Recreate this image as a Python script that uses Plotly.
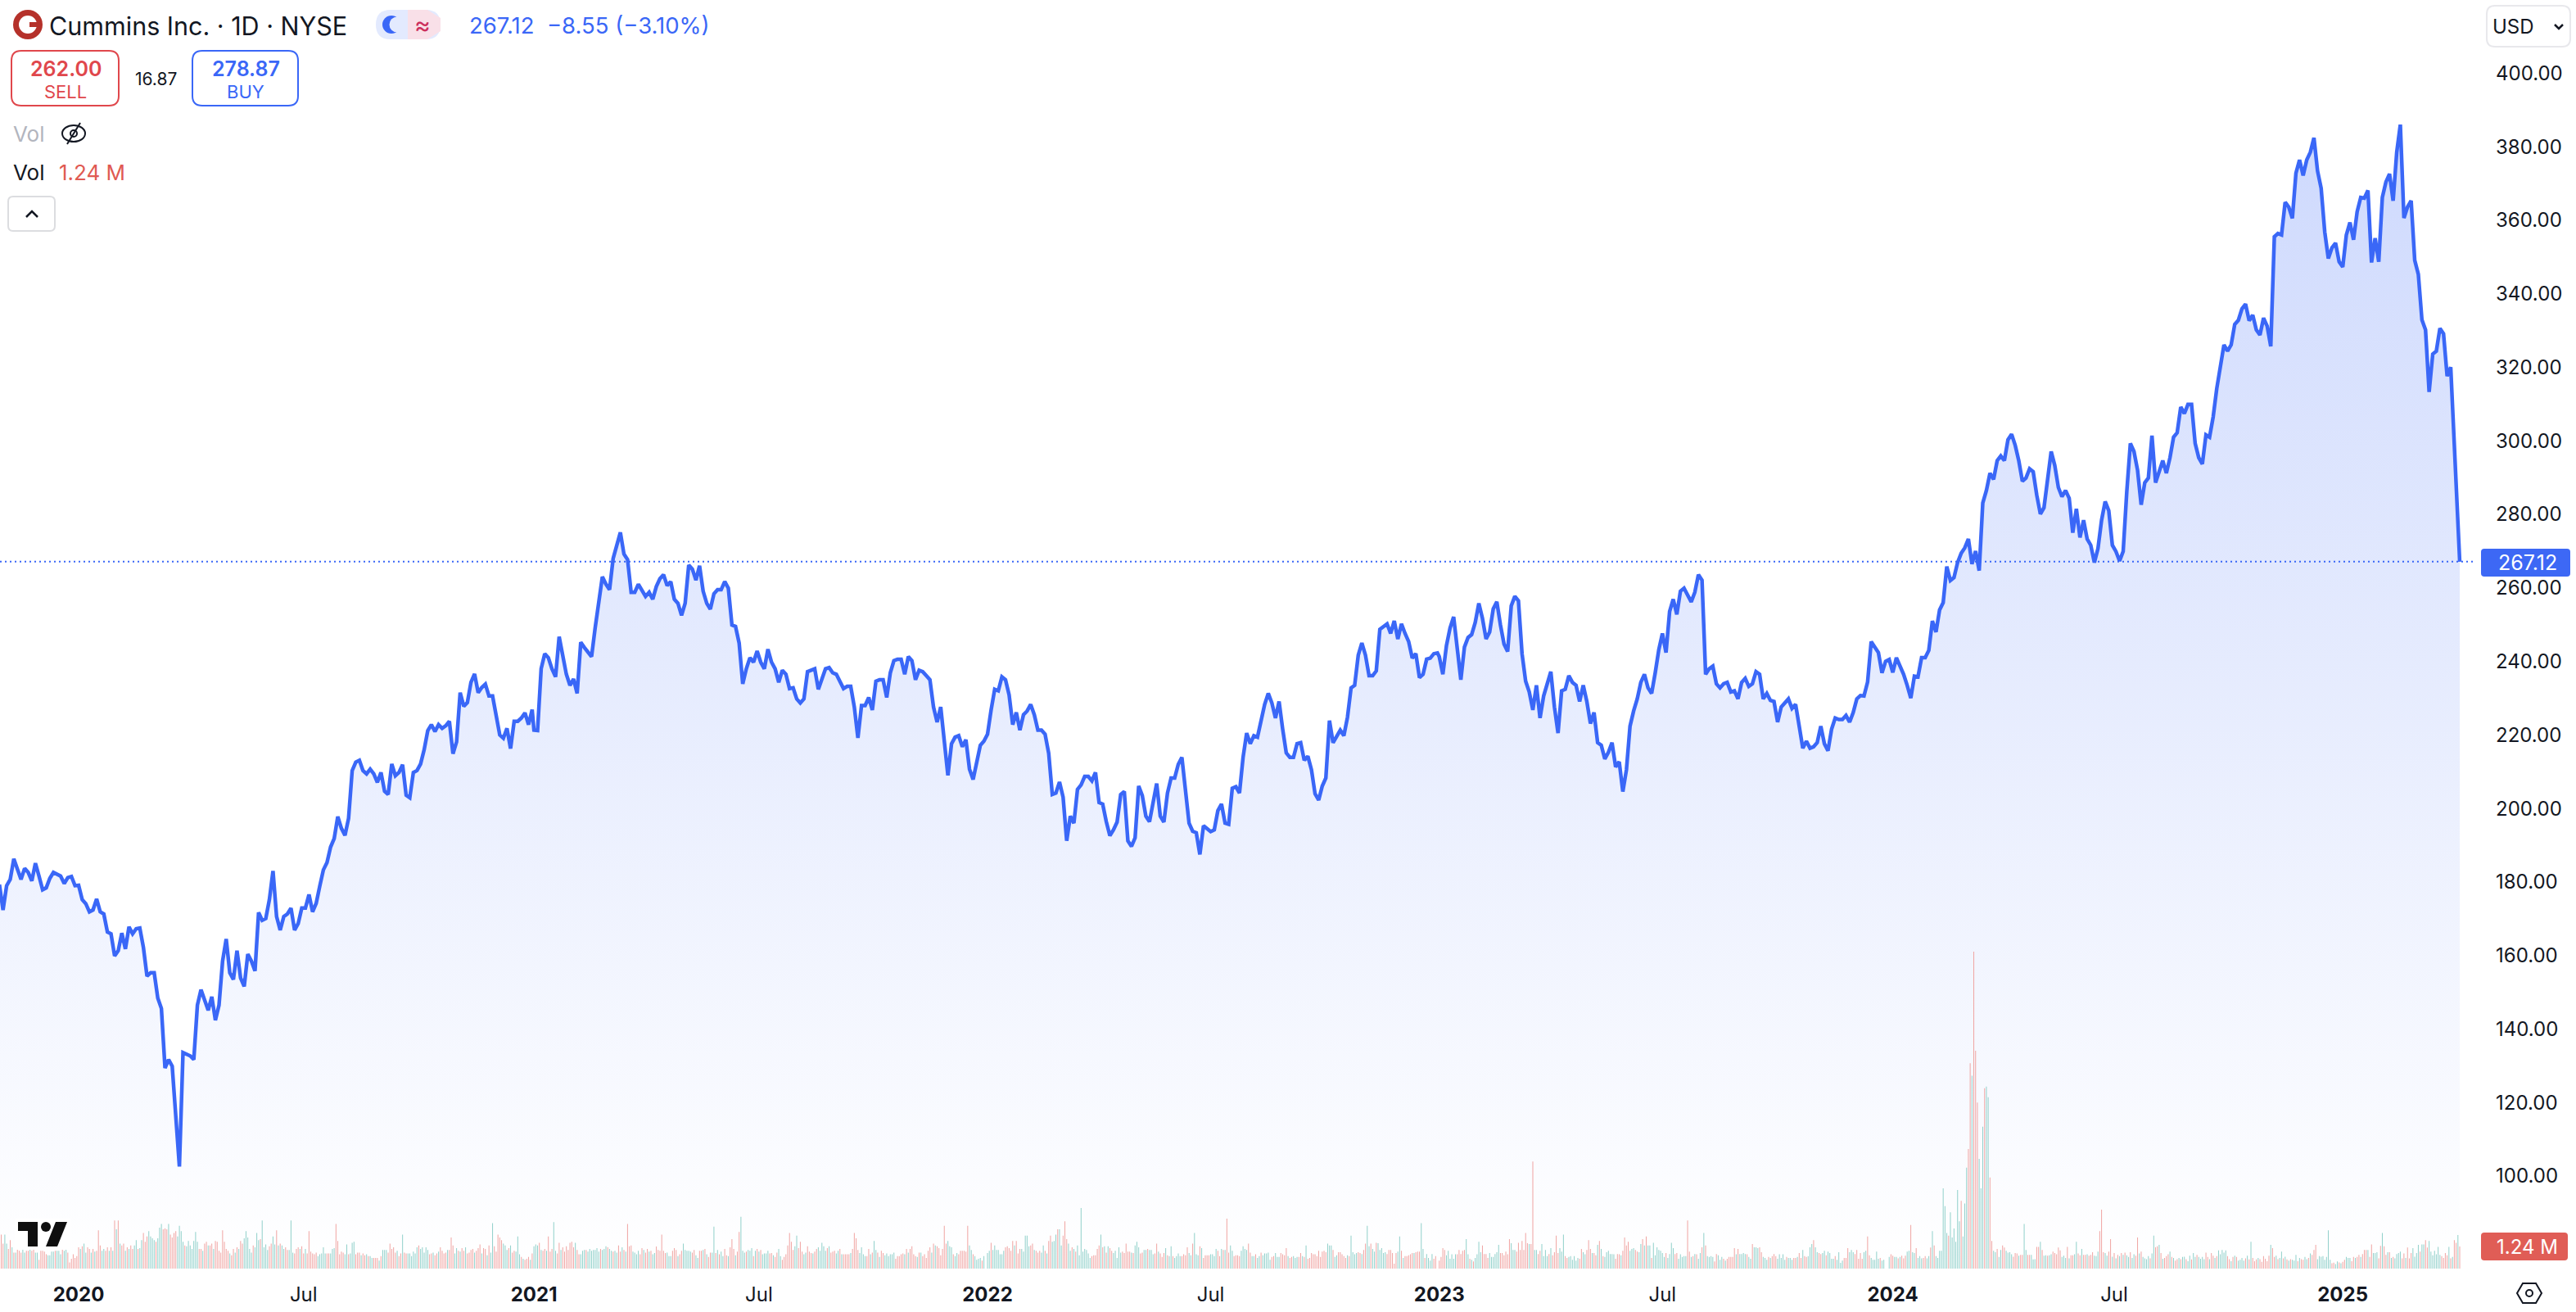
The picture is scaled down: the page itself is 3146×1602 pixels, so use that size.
import plotly.graph_objects as go

WIDTH = 3146
HEIGHT = 1602
FONT = "Inter"
BLUE = "#3a67f7"
RED = "#e0474c"
INK = "#131722"

# bar numbers count trading days from the first session of 2020
year_starts = [-44, 0, 253, 505, 756, 1006, 1258]
tick_bars = [0, 125, 253, 378, 505, 629, 756, 880, 1008, 1131, 1258]
tick_labels = ["<b>2020</b>", "Jul", "<b>2021</b>", "Jul", "<b>2022</b>", "Jul",
               "<b>2023</b>", "Jul", "<b>2024</b>", "Jul", "<b>2025</b>"]
price_ticks = [100, 120, 140, 160, 180, 200, 220, 240, 260, 280, 300, 320, 340, 360, 380, 400]

last_close = 267.12
last_volume = "1.24 M"

# closes, one every second session
closes_2019 = [179.3, 172.4, 179.0, 180.7, 186.3, 183.5, 180.7, 183.7, 182.6, 180.3, 185.1, 181.6, 177.9, 178.4, 181.0, 182.6, 182.1, 181.6, 179.6, 181.2, 181.5, 179.0]
closes_2020 = [179.1, 175.2, 174.1, 171.9, 172.4, 175.4, 171.9, 171.3, 166.4, 165.9, 159.9, 161.3, 166.1, 161.8, 167.8, 165.9, 167.3, 167.5, 162.2, 154.4, 155.3, 155.3, 148.4, 145.6, 129.4, 131.7, 129.9, 117.0, 102.6, 133.6, 133.1, 132.7, 131.7, 146.5, 150.7, 147.5, 145.1, 148.8, 142.4, 146.5, 158.5, 164.5, 155.3, 153.5, 161.3, 153.9, 151.6, 160.4, 158.5, 155.8, 171.7, 169.6, 170.1, 175.2, 183.0, 170.6, 166.9, 170.6, 171.3, 172.9, 166.9, 168.7, 172.9, 172.9, 176.6, 171.9, 174.2, 178.9, 183.3, 185.3, 189.5, 191.8, 197.8, 194.6, 192.7, 197.3, 210.3, 212.6, 213.1, 210.3, 209.4, 210.7, 209.4, 207.1, 209.8, 204.7, 203.8, 212.1, 208.9, 209.8, 211.9, 203.6, 202.9, 209.8, 210.3, 212.1, 216.0, 221.2, 222.8, 220.9, 222.8, 221.8, 222.5, 223.7, 214.9, 218.1, 231.5, 227.8, 228.8, 234.3, 236.6, 231.5, 232.9, 233.8, 230.6, 230.6, 225.5, 220.0, 219.1, 221.8, 216.3, 223.7, 223.7, 224.6, 226.0, 222.8, 226.9]
closes_2021 = [221.3, 221.2, 238.0, 242.1, 241.0, 238.0, 235.8, 246.7, 241.7, 236.5, 233.5, 235.2, 231.3, 245.2, 243.8, 242.4, 241.3, 249.1, 256.9, 263.0, 261.0, 259.5, 268.0, 271.4, 275.1, 269.2, 267.7, 258.8, 258.8, 261.0, 259.5, 257.7, 258.8, 256.9, 260.4, 262.5, 263.6, 260.6, 261.7, 256.9, 255.8, 252.5, 255.8, 266.2, 265.1, 262.1, 266.0, 259.1, 255.8, 254.2, 258.4, 259.5, 259.5, 261.7, 259.9, 249.9, 249.5, 245.0, 233.9, 238.0, 241.0, 239.8, 242.8, 239.8, 238.0, 243.3, 239.8, 238.0, 234.3, 237.6, 236.5, 232.6, 232.8, 229.8, 228.7, 229.8, 237.2, 237.6, 238.0, 232.4, 235.4, 238.0, 238.3, 236.9, 236.5, 234.3, 232.6, 233.2, 233.2, 227.6, 219.2, 228.0, 228.0, 230.2, 226.8, 234.6, 235.0, 235.0, 230.2, 236.9, 240.2, 240.6, 240.6, 236.5, 241.3, 240.2, 235.0, 237.6, 237.2, 236.1, 235.0, 227.6, 223.5, 227.6, 218.3, 209.0, 217.6, 219.4, 219.8, 216.8, 218.7, 210.7, 207.9, 212.7, 217.2, 218.3]
closes_2022 = [220.2, 226.8, 232.4, 232.0, 235.8, 235.0, 230.9, 222.8, 226.1, 221.3, 225.5, 226.5, 228.3, 225.5, 221.3, 221.3, 220.2, 215.0, 203.8, 204.2, 207.2, 203.1, 191.2, 197.9, 196.0, 205.2, 206.4, 208.7, 208.7, 207.5, 209.8, 201.6, 201.2, 196.4, 192.6, 194.2, 196.3, 203.8, 204.6, 191.2, 189.7, 192.0, 206.1, 203.5, 197.9, 196.4, 201.6, 206.8, 197.9, 196.3, 204.2, 208.3, 208.3, 212.0, 213.9, 204.6, 196.0, 193.8, 193.4, 187.5, 195.3, 194.5, 193.7, 194.2, 199.4, 201.2, 196.0, 195.7, 205.5, 205.9, 204.2, 213.9, 220.5, 217.6, 219.8, 219.4, 223.5, 228.3, 231.3, 228.7, 224.6, 229.1, 221.6, 215.1, 213.9, 213.9, 217.6, 217.9, 213.1, 214.2, 210.5, 204.0, 202.3, 206.1, 208.3, 223.9, 217.9, 219.8, 221.3, 219.8, 224.8, 232.8, 233.5, 241.7, 245.0, 241.7, 236.1, 236.1, 237.4, 248.7, 249.5, 250.2, 247.6, 251.0, 246.1, 250.2, 247.6, 245.4, 240.9, 242.1, 235.6, 236.5, 240.6, 240.9, 242.1, 242.3]
closes_2023 = [241.3, 236.5, 244.3, 249.1, 252.1, 243.2, 235.0, 243.9, 246.5, 247.3, 250.6, 255.8, 251.7, 246.1, 248.0, 254.3, 256.2, 249.9, 244.7, 242.7, 255.1, 257.7, 256.5, 242.1, 234.6, 231.7, 226.8, 233.5, 224.6, 230.6, 234.3, 237.2, 227.6, 220.5, 232.0, 232.4, 236.1, 234.3, 233.5, 229.1, 233.5, 229.1, 223.1, 226.1, 217.9, 217.2, 213.5, 215.3, 217.9, 211.3, 212.7, 204.6, 210.5, 222.4, 226.5, 229.8, 234.3, 236.5, 232.8, 231.3, 236.9, 243.2, 247.6, 242.4, 253.6, 256.9, 252.8, 259.1, 259.9, 258.0, 256.2, 258.8, 263.6, 262.1, 236.5, 238.0, 238.7, 233.9, 232.8, 233.9, 234.3, 231.7, 232.0, 229.8, 234.3, 235.4, 233.2, 233.9, 237.2, 236.5, 229.8, 231.3, 229.4, 229.1, 223.5, 227.6, 228.7, 229.8, 227.2, 228.3, 222.4, 216.4, 218.3, 216.4, 216.8, 217.9, 222.4, 217.6, 215.7, 221.6, 224.6, 224.2, 224.2, 225.3, 223.5, 226.1, 229.8, 230.7, 230.6, 234.4, 245.4, 243.9, 242.4, 236.9, 240.0]
closes_2024 = [240.5, 237.0, 241.0, 239.0, 236.5, 233.5, 230.0, 236.0, 235.8, 241.0, 241.0, 243.0, 251.0, 248.0, 254.0, 256.0, 265.8, 262.0, 262.8, 266.9, 269.4, 270.9, 273.3, 266.5, 270.0, 264.7, 283.1, 286.5, 291.2, 289.5, 294.6, 295.9, 294.6, 300.3, 301.8, 298.8, 294.6, 289.0, 289.9, 292.4, 291.6, 285.2, 280.1, 281.8, 288.6, 297.1, 293.3, 287.3, 284.8, 286.5, 284.4, 275.0, 281.5, 273.7, 278.4, 273.3, 271.6, 266.9, 270.7, 278.4, 283.5, 281.0, 271.6, 269.9, 267.3, 269.9, 286.1, 299.3, 297.1, 292.0, 282.6, 288.6, 289.9, 301.4, 288.6, 292.0, 294.6, 291.2, 295.4, 301.0, 302.2, 309.2, 307.4, 309.9, 309.9, 299.3, 295.4, 293.7, 301.6, 301.0, 306.5, 314.2, 320.1, 326.1, 324.4, 326.1, 331.7, 332.8, 335.9, 337.2, 332.7, 334.2, 330.2, 328.8, 333.4, 331.2, 325.7, 355.5, 356.4, 356.0, 364.9, 363.6, 360.5, 372.8, 376.4, 372.2, 376.4, 378.5, 382.4, 373.4, 368.7, 356.8, 349.6, 352.5, 353.8, 348.7]
closes_2025 = [347.3, 356.0, 359.4, 354.7, 362.3, 366.2, 366.0, 368.1, 348.5, 355.1, 348.7, 366.2, 370.4, 372.6, 365.3, 378.5, 386.0, 360.6, 363.6, 365.3, 349.1, 345.3, 332.9, 330.2, 313.3, 323.6, 324.4, 330.6, 329.1, 317.6, 320.0, 297.1, 276.0]

# volume in millions per session, negative = down day (red bar)
volumes_2019 = [2.6, -1.9, -1.4, 1.9, 1.4, -1.1, -1.6, 1.2, -0.9, 0.9, -1.1, -1.0, -0.9, 1.1, 0.9, -1.0, -1.0, 1.1, -1.0, -1.1, 0.9, 0.9, -0.5, -1.0, -1.0, -0.95, -0.8, 0.75, 0.75, 0.95, 0.95, -1.0, 1.0, 1.0, 0.8, -1.1, 1.0, 2.1, -0.9, -0.35, -0.55, -0.8, -0.6, -0.7]
volumes_2020 = [-1.2, 1.1, -1.25, 1.4, 0.9, -1.2, -1.1, 0.9, -1.1, 0.95,
                -1.0, -2.15, -1.3, 1.0, 1.1, -1.0, -1.2, 1.0, -1.2, 1.0,
                -2.7, 2.2, -2.7, 1.4, -1.3, -1.4, 1.0, -1.2, 1.1, -1.3,
                -1.1, 1.3, 1.6, -1.1, 1.15, 1.6, -2.0, -1.5, -1.8, 2.1,
                1.8, 1.7, 1.6, -1.5, 1.7, 2.3, 2.5, -2.2, -2.25, -2.2,
                2.5, -1.9, -1.75, -2.0, -2.1, 1.8, 2.4, 2.1, 1.5, -1.3,
                1.25, 1.55, 1.3, 1.1, 1.55, 2.05, 1.5, -1.1, -1.1, 1.0,
                -1.4, -1.5, 1.3, -1.3, -1.4, 1.1, -1.55, -1.5, -1.0, -0.9,
                -2.15, -1.5, -1.1, -1.0, 0.85, -0.75, -1.1, 0.9, -1.2, 1.1,
                -1.55, -1.4, 1.7, 2.1, 1.75, 1.1, 0.9, -1.3, 1.2, 2.0,
                1.6, -1.65, 2.7, 1.2, 1.35, 1.05, -1.25, -1.4, 1.8, 1.35,
                -2.15, 1.3, -1.4, 1.3, 1.1, -1.2, -1.05, 1.05, 2.7, 0.9,
                -0.85, -1.1, -1.2, 1.1, -1.25, -0.85, 1.1, -0.85, -2.1, -0.95,
                -0.85, -0.8, -0.9, 0.7, 0.8, 0.85, 1.2, 0.85, -0.85, -0.85,
                0.85, 1.1, 1.15, -2.5, -1.55, -0.8, -0.95, -0.9, 0.8, 1.35,
                -0.8, 0.85, 1.45, 1.5, -0.8, -0.9, -0.9, 0.75, -0.85, -0.75,
                0.8, -0.7, 0.7, 0.6, -0.6, -0.6, -0.6, 0.45, -0.7, 1.05,
                1.05, 1.05, -0.9, -1.4, -1.1, -1.2, -0.9, 1.0, -0.7, -0.85,
                1.9, -0.9, -0.85, 0.85, 0.85, 0.7, 0.95, 0.85, 1.2, -1.3,
                1.1, 1.2, 0.9, 1.2, 1.05, -0.8, -0.85, 0.9, -0.75, -0.85,
                0.95, -1.2, -1.0, -0.85, -0.9, 1.05, -1.05, -1.75, -1.3, 0.85,
                1.15, -1.0, 0.95, -1.15, -1.0, 1.2, -0.85, -0.9, -1.05, -1.1,
                0.9, -1.0, -1.15, -1.35, 0.85, -1.15, -1.1, 0.75, -1.3, 0.9,
                2.55, -1.25, -0.95, -1.9, -1.75, -1.6, 1.4, 1.3, 1.05, -1.15,
                1.3, -0.9, -1.0, 0.95, 1.8, 0.8, -0.65, 0.55, -0.5, -0.55, -0.65, 0.5, -0.85]
volumes_2021 = [1.25, 1.35, 1.3, -1.45, 1.05, -1.0, -1.1, 1.0, -1.8, -0.95, -1.1, 2.6, 1.0, -0.85, -1.45, 1.05, -1.2, -0.95, -1.25, -1.05,
                -1.45, -1.5, -1.2, 1.45, -1.05, -0.8, 0.8, 1.0, 1.05, -1.05, 0.95, 1.1, 1.0, 1.05, 1.05, 1.15, 0.95, -1.1, 1.05, 1.1,
                1.25, -1.2, 1.1, 1.0, -0.95, 1.0, 0.9, -1.3, -0.95, 1.2, -1.05, 0.95, -2.5, -1.25, -1.3, 0.95, 0.9, 0.8, 1.0, -0.8,
                -1.15, 1.05, -0.9, -1.1, 0.95, -1.0, 0.8,
                0.87, -1.24, -1.05, -1.0, -1.9, -1.0, -0.87, 0.9, 0.7, 0.7, -1.0, -1.15, -1.05, 0.7, -0.8, -1.0, 1.4, 1.05, 1.0, 1.0,
                0.95, -0.9, -1.05, 0.75, 0.6, -1.0, -1.0, 1.05, -1.1, 0.8, -0.65, -0.9, 0.9, 2.35, -0.87, 1.05, -0.8, 0.95, 0.7, -1.1,
                -0.75, 0.7, -1.2, -1.65, -1.1, 0.75, -0.95, -2.05, 2.9, 1.0, 0.9, -0.95, 1.05, 1.0, 1.15, -0.7, 1.0, -1.1, 0.95, -1.05,
                0.8, 0.85, 0.85, 1.0, -0.85, -0.87, 0.75, -0.65, -0.9, 1.1, 0.7, -0.5, -0.65, -0.8, -1.3, -2.0, -1.5, -1.05, 1.25, 1.85,
                -1.15, -1.5, -0.95, 0.8, 0.9, -1.25, -0.95, -0.87, 0.85, -0.95, -1.1, 1.2, 1.0, 1.45, 1.25, 1.0, -1.15, 1.25, -0.9, -0.95,
                -1.0, 0.85, 1.0, -1.1, 0.8, -0.8, -0.8, -0.8, -0.8, 0.87, -1.1, -2.0, -1.7, -1.05, 0.87, 1.2, 0.8, 0.7, -0.7, -1.1,
                0.8, -0.9, 1.55, 1.05, -0.9, 0.65, -1.0, -0.87, 0.75, 0.85, 0.7, 0.8, 0.8, 0.9, -0.55, -0.7, -0.7, -0.8, -0.85, 0.8,
                -1.1, 0.9, -1.1, -1.25, -0.8, -0.7, 0.65, -0.9, 0.9, -0.7, -0.8, -0.6, -1.0, -1.2, 0.9, -1.4, 1.3, -1.25, -1.15, -0.75,
                -1.1, -2.4, -1.4, 1.55, 1.25, 1.2, -0.8, 0.7, 0.87, -0.8, -1.0, -1.0, -1.0, -0.95, -2.4, 1.3, 1.05, -0.8, 0.7, 0.5,
                0.55, 0.6, -0.45, 0.7]
volumes_2022 = [0.87, 1.0, -1.45, 1.05, 1.3, 1.05, 1.05, 0.8, 0.8, 1.0, -1.2, -1.25, -1.15, -1.0, -1.55, 1.3, -1.55, -0.85, -1.1, 1.1,
                0.95, 1.85, 1.85, 1.25, -1.3, -1.4, 1.05, -1.0, -0.9, -1.0, 0.9, 1.3, -1.0, 0.85, -1.55, -1.85, 1.5, 1.55, 1.9, -2.2,
                2.2, 1.3, -1.85, -2.65, -1.65, 1.4, 1.0, -1.2, 1.1, -0.95, 1.3, 0.75, 3.4, 0.95, 1.1, 1.05, 0.85, 0.6, -0.7, -0.75,
                -0.75, -1.1, -1.3, 1.9, -1.2, 1.25, -0.9, 1.25, -1.15, -1.0, 0.87, 1.0, 0.6, 1.2, 0.9, -0.95, -0.87, -1.4, -0.95, -0.95,
                0.9, -0.87, 1.3, 1.5, 1.2, -0.85, -0.9, 1.05, 1.05, -1.1, 1.05, 1.05, 0.8, -0.85, -1.4, 0.95, -0.85, -0.65, -0.87, 1.15,
                -0.75, 0.7, 1.25, -0.7, 0.6, 0.7, 0.85, 0.7, -0.7, -0.8, -0.75, -1.2, 0.87, 0.75, -1.4, 2.0, 0.8, 0.75, -1.25, 1.15,
                -0.6, -0.75, -0.75, -0.75, 0.8, 0.8, 0.7, 1.1, -1.0, -0.7, 1.1, -1.05, 1.05, -2.8, -0.9, 1.3, 1.0, -0.7, -0.75, -0.75,
                -0.7, 1.0, 1.25, 1.1, 1.05, -1.4, -0.9, 0.7, 0.7, -0.8, 0.6, 0.7, -0.9, 0.75, 0.85, 0.85, 0.9, 0.5, -0.65, -0.7,
                0.87, 0.65, 0.65, -0.87, -0.8, -0.75, -1.15, 0.7, -0.6, -0.65, 0.7, 0.6, 0.65, -0.65, -0.87, 0.7, -0.65, 1.3, -0.55,
                -0.6, -0.87, -0.8, -0.8, -0.7, -1.0, -0.65, -0.95, -1.0, -0.92, 1.4, 1.3, 1.3, -1.05, 0.65, 0.75, -0.92, -0.92, -0.8, -0.7,
                -0.6, 0.75, -0.7, 1.85, 0.92, 0.8, 0.87, -0.92, -0.87, 0.82, -1.05, -1.4, 2.4, 1.25, -1.4, 1.1, 0.95, -1.45, 1.42, 1.05,
                1.15, 0.87, 0.92, -0.82, -1.05, -1.05, -0.87, -0.28, -0.87, 0.95, 1.8, -1.0, 0.6, -0.7, -0.7, -0.75, -0.8, -0.87, 0.87, -0.92,
                -0.95, -0.95, 2.55, 1.1, -0.6, 0.82, 0.6, 0.45, 0.82, -0.55, -0.7]
volumes_2023 = [-0.45, -0.65, -1.15, -1.05, 0.75, 1.0, 0.55, 0.8, 0.55, 0.8, -0.8, -1.05, -0.82, -1.0, -1.05, 1.65, 0.8, -0.55, 0.5, -0.4,
                0.6, 0.8, 1.5, 0.92, -1.3, -0.82, -0.82, -0.6, 0.87, 0.65, 0.65, 0.82, 0.92, 1.33, -0.87, -0.87, -0.75, -0.95, -0.8, -1.65,
                1.42, 1.05, 1.05, -0.95, -1.45, -1.05, -1.55, -1.05, -2.0, -1.42, 1.38, -1.38, -6.0, 1.05, 1.05, -0.82, -1.0, 1.38, 0.7, 1.05,
                0.7, -0.82, 1.15, -0.75, -0.92, -1.85, -0.87, 1.15, 0.95, 1.9, -0.7, -0.6, 0.65, 0.7, 0.5, 0.7, 0.45, 0.6, -0.55, -1.1,
                0.92, 0.8, -1.05, -1.6, -1.1, 0.87, -0.87, -0.75, 1.33, -1.55, 1.1, -0.7, 0.65, 0.92, 1.0, 0.82, 0.82, 0.8, -0.55, -0.82,
                -0.8, 0.75, -1.0, -1.75, -1.3, -1.5, 1.0, 1.1, 1.15, -1.05, -0.95, 0.92, 1.38, -1.65, 1.3, -1.8, 1.3, 1.3, -0.6, 1.45,
                0.75, 1.2, 1.05, 1.0, 0.87, 0.65, -0.87, 0.6, 0.82, 1.45, 1.15, -0.82, -0.87, 0.55, 0.8, 0.65, 0.7, 0.7, -2.7, -0.95,
                0.65, -0.7, 0.82, -0.8, 0.55, 0.87, -1.2, 2.0, -1.3, 0.7, 0.65, 0.7, 0.65, -0.4, -0.82, 0.75, 0.5, 0.65, -0.55, 0.45,
                -0.55, -0.65, -0.65, -0.65, -1.15, 0.8, -1.1, 0.82, 0.82, 0.87, 0.82, -0.8, 0.65, 0.55, -1.38, 1.2, 1.2, 1.15, -1.2, -0.92,
                0.65, 0.6, 0.5, -0.65, 0.6, -0.7, -0.82, -0.7, 0.55, 0.8, 0.6, 0.8, 0.5, -0.65, 0.6, 0.6, 0.5, -0.6, -0.6, 0.65,
                -0.87, -0.6, 1.05, -0.7, -0.65, 0.7, 1.2, 1.38, -1.6, 1.2, 0.92, -0.87, -0.82, 0.87, 1.0, -0.75, 0.95, 0.87, 0.55, 0.55,
                -0.7, 0.5, 0.92, 0.32, 0.45, -0.6, -0.6, -1.15, 0.92, 1.05, 0.92, -0.82, -1.05, -0.55, -0.87, -0.55, 0.92, 1.0, -1.8, -0.75,
                0.6, 0.5, 0.5, 0.95, 0.55, -0.6, 0.45, 0.5]
volumes_2024 = [0.65, -0.8, -0.72, 0.65, 0.65, -0.57, 0.65, -0.72, -0.57, -0.72, 0.95, 1.0, -2.45, 0.92, 0.87, -1.15, 0.6, 0.7, 0.57, -0.6,
                -0.7, 0.57, 0.7, -1.18, 2.1, -1.3, 0.7, 0.6, 1.0, 1.0, 4.5, 3.5, 2.0, -1.85, 3.15, 1.75, 2.25, 1.5, 4.4, 2.65,
                -3.8, 1.8, 3.65, 5.65, -6.7, -11.5, 10.8, -17.75, -12.2, -9.3, 6.15, 4.5, 7.95, -10.1, 10.2, 9.6, -5.1, -1.55, 1.0, 0.92,
                -1.1, 0.65, 1.05, -1.3, -1.18, 1.0, 0.9, 0.92, 0.8, -0.67, -0.87, -0.85, 0.72, -0.77, -0.77, 2.5, 1.05, -0.77, -0.77, 0.77,
                0.52, 0.53, -1.22, -1.22, 1.5, -1.05, 0.72, 0.75, -0.72, 0.75, 0.8, -0.95, -0.87, -0.8, -1.18, -1.02, 0.65, 0.72, 0.6, -1.22,
                0.57, -0.75, -0.75, 0.8, 1.5, -0.85, -0.75, 1.1, -0.77, -0.77, 0.8, -0.72, -0.77, -0.92, 0.72, 0.7, 0.95, -2.1, -3.3, -0.92, 0.87,
                0.72, -0.95, -1.65, 0.67, -0.87, 0.57, -0.77, 0.7, -0.87, 0.77, -0.9, 0.75, 0.65, -0.92, 0.6, 0.8, -0.72, -1.75, 0.85, -0.95, 0.65,
                0.57, 0.53, 0.7, -0.57, 0.85, 1.85, -1.2, -1.25, 1.33, -0.87, 0.55, -0.6, -0.7, -0.8, 0.95, -0.65, 0.6, -0.45, -0.53, 0.6, -0.53, 0.65,
                0.67, -0.53, 0.42, 0.72, -0.52, 0.87, 0.65, -0.77, 0.65, 0.55, 0.65, 0.53, -0.9, -0.65, 0.53, -0.87, -0.72, 0.6, -0.7, 1.02, 0.8,
                1.05, 0.9, 1.02, -0.7, -0.53, 0.42, -0.65, 0.72, -0.65, 0.45, 0.5, 0.6, 0.45, -0.57, 0.72, -0.52, 1.5, -0.6, -0.42, -0.52, 0.6,
                -0.53, -0.38, -0.7, -0.55, -0.42, -0.72, 1.33, -1.15, -0.65, 0.72, -0.53, 0.6, 0.95, -0.57, 0.67, -0.52, 0.45, -0.53, 0.5, 0.45, 0.77, -0.42, 0.6,
                -0.53, -0.5, 0.65, 0.53, -0.6, 0.85, -0.77, -1.05, -1.33, 0.53, 0.7, 0.67, 0.7, 0.5, 0.65, 2.15, 0.5, -0.3, -0.33, 0.25, 0.4, -0.35, 0.3, 0.35]
volumes_2025 = [-0.38, -0.5, 0.65, 0.6, 0.6, -0.42, -0.65, 0.6, -0.65, -0.77, 0.65, -0.82, -1.05, -1.05, 1.05, -0.65, -1.35, 0.87, 0.87, 0.92,
                -0.57, -1.28, 2.0, -1.25, -0.77, 0.92, -0.92, 0.6, -0.65, 0.57, 0.82, 0.87, 0.95, -0.57, -0.85, 0.6, -1.18, -0.57, -0.87, 1.15,
                0.67, 0.87, 1.33, -0.95, 1.35, 1.35, -1.6, -1.18, 1.55, 0.95, 0.75, 1.0, 0.8, 1.22, 0.77, -0.7, -0.6, -0.87, -0.75, 1.22,
                -0.57, 0.65, -1.6, -1.45, 1.88, -1.24]

close_chunks = [closes_2019, closes_2020, closes_2021, closes_2022, closes_2023, closes_2024, closes_2025]
volume_chunks = [volumes_2019, volumes_2020, volumes_2021, volumes_2022, volumes_2023, volumes_2024, volumes_2025]


def place_chunks(chunks, step):
    # each year starts on its own bar so a miscounted list cannot shift later years
    bars, values = [], []
    limits = year_starts[1:] + [1324]
    for start, limit, chunk in zip(year_starts, limits, chunks):
        for i, value in enumerate(chunk):
            bar = start + i * step
            if bar < limit:
                bars.append(bar)
                values.append(value)
    return bars, values


price_bars, price_values = place_chunks(close_chunks, 2)
price_bars.append(1323)
price_values.append(last_close)
volume_bars, volume_values = place_chunks(volume_chunks, 1)


def px_x(x):
    return x / WIDTH


def px_y(y):
    return 1 - y / HEIGHT


annotations = []
shapes = []


def label(text, x, y, size, color=INK, anchor="left", weight=None):
    font = dict(family=FONT, size=size, color=color)
    if weight:
        font["weight"] = weight
    annotations.append(dict(text=text, x=px_x(x), y=px_y(y), xref="paper", yref="paper",
                            xanchor=anchor, yanchor="middle", showarrow=False, font=font))


def box(x0, y0, x1, y1, radius=8, line=None, fill=None, line_width=2):
    r = radius
    path = (f"M{px_x(x0 + r)},{px_y(y0)} L{px_x(x1 - r)},{px_y(y0)} Q{px_x(x1)},{px_y(y0)} {px_x(x1)},{px_y(y0 + r)} "
            f"L{px_x(x1)},{px_y(y1 - r)} Q{px_x(x1)},{px_y(y1)} {px_x(x1 - r)},{px_y(y1)} "
            f"L{px_x(x0 + r)},{px_y(y1)} Q{px_x(x0)},{px_y(y1)} {px_x(x0)},{px_y(y1 - r)} "
            f"L{px_x(x0)},{px_y(y0 + r)} Q{px_x(x0)},{px_y(y0)} {px_x(x0 + r)},{px_y(y0)} Z")
    shapes.append(dict(type="path", path=path, xref="paper", yref="paper",
                       line=dict(color=line or "rgba(0,0,0,0)", width=line_width if line else 0),
                       fillcolor=fill or "rgba(0,0,0,0)"))


def polygon(points, fill=None, line=None, line_width=2, closed=True):
    path = "M" + " L".join(f"{px_x(x)},{px_y(y)}" for x, y in points) + (" Z" if closed else "")
    shapes.append(dict(type="path", path=path, xref="paper", yref="paper",
                       line=dict(color=line or "rgba(0,0,0,0)", width=line_width if line else 0),
                       fillcolor=fill or "rgba(0,0,0,0)"))


def circle(cx, cy, rx, ry=None, fill=None, line=None, line_width=2):
    ry = ry or rx
    shapes.append(dict(type="circle", xref="paper", yref="paper",
                       x0=px_x(cx - rx), x1=px_x(cx + rx), y0=px_y(cy + ry), y1=px_y(cy - ry),
                       line=dict(color=line or "rgba(0,0,0,0)", width=line_width if line else 0),
                       fillcolor=fill or "rgba(0,0,0,0)"))


# header
circle(34, 30, 18, fill="#b5312a")
circle(34, 30, 11, fill="#ffffff")
polygon([(36, 27), (50, 27), (50, 33), (36, 33)], fill="#b5312a")
label("Cummins Inc. · 1D · NYSE", 58, 31, 30.5)
box(459, 12, 538, 48, radius=18, fill="#e3eafe")
polygon([(498, 12), (522, 12), (538, 22), (538, 38), (522, 48), (498, 48)], fill="#f9e0e8")
circle(478, 30, 11, fill=BLUE)
circle(485, 30, 9.5, fill="#e3eafe")
label("≈", 516, 30, 30, "#cc2f5c", "center")
label("267.12  −8.55 (−3.10%)", 571, 31, 27.5, BLUE)

# sell / buy boxes
box(14, 62, 145, 129, radius=12, line=RED)
label("262.00", 80, 84, 25, RED, "center", 600)
label("SELL", 80, 112, 22, RED, "center")
label("16.87", 190, 96, 21, INK, "center")
box(235, 62, 364, 129, radius=12, line=BLUE)
label("278.87", 300, 84, 25, BLUE, "center", 600)
label("BUY", 300, 112, 22, BLUE, "center")

# volume legend rows
label("Vol", 14, 163, 26, "#b2b5be")
circle(90, 163, 14, 10, line=INK)
circle(90, 163, 4, line=INK)
polygon([(82, 176), (98, 150)], line=INK, closed=False)
label("Vol", 14, 211, 26)
label("1.24 M", 70, 211, 26, "#e05a52")
box(10, 240, 67, 282, radius=6, line="#dcdde0")
polygon([(32, 265), (39, 258), (46, 265)], line=INK, line_width=2.5, closed=False)

# currency selector
box(3037, 7, 3139, 57, radius=10, line="#e8e8ec")
label("USD", 3042, 32, 24)
polygon([(3120, 30), (3125, 35), (3130, 30)], line=INK, line_width=2.5, closed=False)

# last price and last volume flags
box(3030, 670, 3139, 704, radius=4, fill="#3d68f5")
label(f"{last_close:.2f}", 3087, 687, 25, "#ffffff", "center")
box(3030, 1505, 3136, 1539, radius=4, fill="#e05d56")
label(last_volume, 3086, 1522, 24, "#ffffff", "center")

# settings hexagon
polygon([(3074, 1579), (3081, 1567), (3097, 1567), (3104, 1579), (3097, 1591), (3081, 1591)], line=INK)
circle(3089, 1579, 4, line=INK)

# TradingView mark
box(18, 1488, 86, 1526, radius=2, fill="#ffffff")
polygon([(22, 1492), (46, 1492), (46, 1522), (34, 1522), (34, 1503), (22, 1503)], fill="#0f0f0f")
circle(56, 1498, 6, fill="#0f0f0f")
polygon([(68, 1492), (82, 1492), (70, 1522), (56, 1522)], fill="#0f0f0f")

# dotted last price line
shapes.append(dict(type="line", xref="paper", yref="y", x0=0, x1=px_x(3024), y0=last_close, y1=last_close,
                   line=dict(color=BLUE, width=2, dash="2px,4px")))

fig = go.Figure()

fig.add_trace(go.Scatter(
    x=price_bars,
    y=price_values,
    mode="lines",
    line=dict(color=BLUE, width=4.5),
    fill="tozeroy",
    fillcolor="rgba(58,103,247,0.1)",
    fillgradient=dict(type="vertical", start=75, stop=382,
                      colorscale=[[0, "rgba(58,103,247,0)"], [1, "rgba(58,103,247,0.245)"]]),
    hoverinfo="skip",
))

# alpha just under 1 keeps plotly from widening thin bars to 2 px
fig.add_trace(go.Bar(
    x=volume_bars,
    y=[abs(v) for v in volume_values],
    yaxis="y2",
    width=0.4552,
    marker=dict(color=["rgba(143,207,201,0.99)" if v > 0 else "rgba(240,163,161,0.99)" for v in volume_values],
                line=dict(width=0)),
    hoverinfo="skip",
))

fig.update_layout(
    width=WIDTH,
    height=HEIGHT,
    autosize=False,
    margin=dict(l=0, r=0, t=0, b=0),
    paper_bgcolor="#ffffff",
    plot_bgcolor="#ffffff",
    showlegend=False,
    font=dict(family=FONT, color=INK),
    annotations=annotations,
    shapes=shapes,
    xaxis=dict(
        domain=[0, px_x(3024)],
        range=[-43.68, 1332.1],
        tickmode="array",
        tickvals=tick_bars,
        ticktext=tick_labels,
        tickfont=dict(family=FONT, size=24, color=INK),
        ticks="",
        showgrid=False,
        zeroline=False,
        showline=False,
        ticklabelstandoff=13,
    ),
    yaxis=dict(
        domain=[px_y(1551), 1],
        range=[74.4, 419.9],
        side="right",
        tickmode="array",
        tickvals=price_ticks,
        ticktext=[f"{v:.2f}" for v in price_ticks],
        tickfont=dict(family=FONT, size=24, color=INK),
        ticks="",
        showgrid=False,
        zeroline=False,
        showline=False,
        ticklabelstandoff=23,
    ),
    yaxis2=dict(
        overlaying="y",
        range=[-0.09, 71.06],
        visible=False,
    ),
)

fig.write_html("out.html", config={"displayModeBar": False},
               post_script="document.body.style.margin='0';document.body.style.overflow='hidden';")
